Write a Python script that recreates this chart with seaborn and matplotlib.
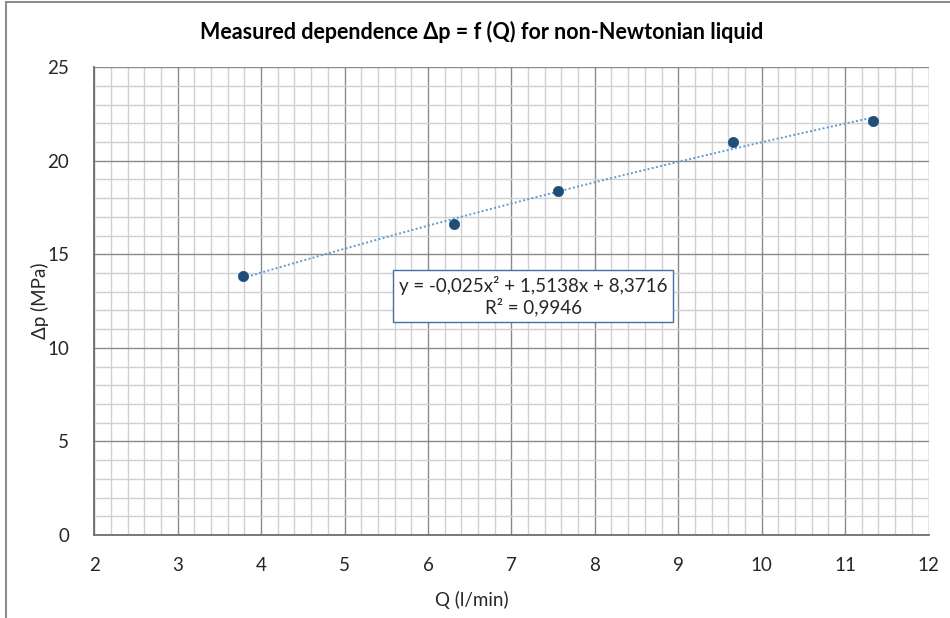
import numpy as np
import pandas as pd
import matplotlib
matplotlib.use("Agg")
import matplotlib.pyplot as plt
from matplotlib.patches import Rectangle
from matplotlib.ticker import MultipleLocator
import seaborn as sns

# data
Q = [3.78, 6.31, 7.56, 9.66, 11.33]
dp = [13.84, 16.60, 18.38, 20.98, 22.12]
x_ticks = [2, 3, 4, 5, 6, 7, 8, 9, 10, 11, 12]
y_ticks = [0, 5, 10, 15, 20, 25]
title = "Measured dependence \u0394p = f (Q) for non-Newtonian liquid"
xlabel = "Q (l/min)"
ylabel = "\u0394p (MPa)"
eq_text = "y = -0,025x\u00b2 + 1,5138x + 8,3716\nR\u00b2 = 0,9946"

sns.set_theme(style="white")
plt.rcParams['font.family'] = ['Lato', 'DejaVu Sans']

fig = plt.figure(figsize=(9.5, 6.18), dpi=100)
ax = fig.add_axes([0.0992, 0.1342, 0.8782, 0.7572])

df = pd.DataFrame({"Q": Q, "dp": dp})
coef = np.polyfit(df["Q"], df["dp"], 2)
xt = np.linspace(min(Q), max(Q), 100)
trend = pd.DataFrame({"Q": xt, "dp": np.polyval(coef, xt)})

sns.lineplot(data=trend, x="Q", y="dp", ax=ax, color="#5b9bd5",
             linestyle=(0, (1, 1.2)), linewidth=1.4, sort=False, zorder=3)
sns.scatterplot(data=df, x="Q", y="dp", ax=ax, color="#1f4e79",
                s=55, edgecolor="#1f4e79", linewidth=0.5, zorder=4)

ax.set_xlim(2, 12)
ax.set_ylim(0, 25)
ax.set_xticks(x_ticks)
ax.set_yticks(y_ticks)
ax.xaxis.set_minor_locator(MultipleLocator(0.2))
ax.yaxis.set_minor_locator(MultipleLocator(1))
ax.grid(which="major", color="#8a8a8a", linewidth=1.0, zorder=1)
ax.grid(which="minor", color="#d0d0d0", linewidth=1.0, zorder=0)
ax.set_axisbelow(True)
ax.tick_params(which="both", length=0)
ax.tick_params(axis="x", labelsize=13.5, colors="#262626", pad=16)
ax.tick_params(axis="y", labelsize=13.5, colors="#262626", pad=18)
for s in ["top", "right"]:
    ax.spines[s].set_visible(False)
for s in ["left", "bottom"]:
    ax.spines[s].set_color("#6e6e6e")
    ax.spines[s].set_linewidth(1.3)

ax.set_xlabel(xlabel, fontsize=13.5, color="#262626")
ax.set_ylabel(ylabel, fontsize=13.5, color="#262626")
ax.xaxis.set_label_coords(0.453, -0.139)
ax.yaxis.set_label_coords(-0.065, 0.5)
ax.xaxis.label.set_va("center")
ax.yaxis.label.set_va("center")

fig.text(0.507, 0.948, title, ha="center", va="center", fontsize=15.5,
         fontweight="bold", color="#000000")

ax.text(7.26, 12.77, eq_text, ha="center", va="center", fontsize=13.5,
        multialignment="center", color="#262626", zorder=5,
        bbox=dict(boxstyle="square,pad=0.3", facecolor="white",
                  edgecolor="#41719c", linewidth=1.0))

fig.patches.append(Rectangle((6/950, -0.05), 1.1, 1.05 - 2/618,
                             transform=fig.transFigure, fill=False,
                             edgecolor="#8c8c8c", linewidth=1.5))

fig.savefig("out.png", dpi=100)
